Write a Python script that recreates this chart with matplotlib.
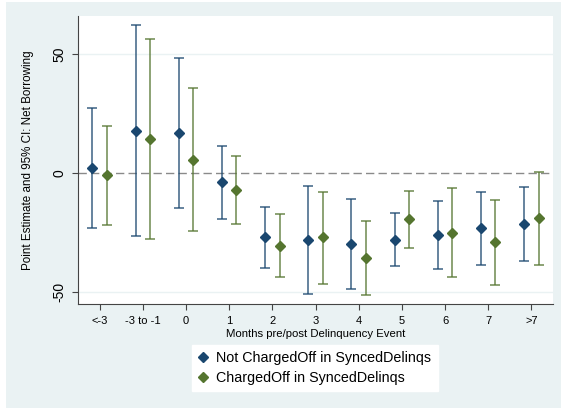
import matplotlib
matplotlib.use("Agg")
import matplotlib.pyplot as plt
from matplotlib.patches import Rectangle
import numpy as np

plt.rcParams['font.family'] = ['Liberation Sans', 'DejaVu Sans']

categories = ["<-3", "-3 to -1", "0", "1", "2", "3", "4", "5", "6", "7", ">7"]

not_co_est = [2.1, 17.8, 16.7, -3.8, -27.0, -28.2, -30.0, -28.0, -26.1, -23.1, -21.3]
not_co_lo = [-23.0, -26.5, -14.8, -19.3, -39.8, -50.8, -48.9, -39.2, -40.3, -38.5, -37.0]
not_co_hi = [27.3, 62.2, 48.2, 11.5, -14.4, -5.3, -10.9, -16.7, -11.8, -7.8, -5.9]

co_est = [-0.8, 14.3, 5.5, -7.3, -30.5, -27.0, -35.9, -19.3, -25.1, -29.0, -19.0]
co_lo = [-21.8, -27.7, -24.5, -21.6, -43.6, -46.5, -51.5, -31.4, -43.8, -47.1, -38.8]
co_hi = [19.9, 56.2, 35.7, 7.3, -17.4, -7.8, -20.2, -7.6, -6.4, -11.2, 0.5]

series_labels = ["Not ChargedOff in SyncedDelinqs", "ChargedOff in SyncedDelinqs"]

BLUE = "#1a476f"
GREEN = "#55752f"
BG = "#eaf2f3"

fig = plt.figure(figsize=(5.61, 4.08), dpi=100, facecolor="white")
fig.patches.append(Rectangle((6/561, 0), 1 - 6/561, 406/408, transform=fig.transFigure,
                             facecolor=BG, edgecolor="none", zorder=-10))
ax = fig.add_axes([78/561, (408-304.3)/408, (553-78)/561, (304.3-16)/408])
ax.set_zorder(1)
ax.set_facecolor("white")

x = np.arange(len(categories))
off = 0.167

def draw(xs, est, lo, hi, color, label):
    est = np.array(est); lo = np.array(lo); hi = np.array(hi)
    ax.errorbar(xs, est, yerr=[est - lo, hi - est], fmt="none", ecolor=color,
                elinewidth=1.1, capsize=3.3, capthick=1.1, alpha=0.85, zorder=3)
    ax.plot(xs, est, linestyle="none", marker="D", markersize=5.5, color=color,
            label=label, zorder=4)

ax.axhline(0, color="#8a8a8a", linestyle=(0, (6, 3)), linewidth=1.0, zorder=2)
for g in (50, -50):
    ax.axhline(g, color=BG, linewidth=1.0, zorder=1)

draw(x - off, not_co_est, not_co_lo, not_co_hi, BLUE, series_labels[0])
draw(x + off, co_est, co_lo, co_hi, GREEN, series_labels[1])

ax.set_xlim(-0.5, 10.5)
ax.set_ylim(-55.2, 66)
ax.set_xticks(x)
ax.set_xticklabels(categories, fontsize=8)
ax.set_yticks([-50, 0, 50])
ax.set_yticklabels(["-50", "0", "50"], fontsize=10, rotation=90, va="center")
ax.tick_params(axis="both", direction="out", length=4.3, width=0.8, color="#444444")
ax.tick_params(axis="x", pad=4)
ax.tick_params(axis="y", pad=4)
for s in ("top", "right"):
    ax.spines[s].set_visible(False)
for s in ("left", "bottom"):
    ax.spines[s].set_color("#444444")
    ax.spines[s].set_linewidth(0.8)

ax.set_xlabel("Months pre/post Delinquency Event", fontsize=8.2, labelpad=2)
ax.set_ylabel("Point Estimate and 95% CI: Net Borrowing", fontsize=8.4, labelpad=13)

leg = fig.legend(loc="center", bbox_to_anchor=(315/561, 1 - 368/408), fontsize=10.3,
                 frameon=True, fancybox=False, framealpha=1, edgecolor="white",
                 facecolor="white", handlelength=0.6, handletextpad=0.6,
                 borderpad=0.45, labelspacing=0.4, markerscale=0.9)

fig.savefig("out.png", dpi=100, facecolor=fig.get_facecolor())
